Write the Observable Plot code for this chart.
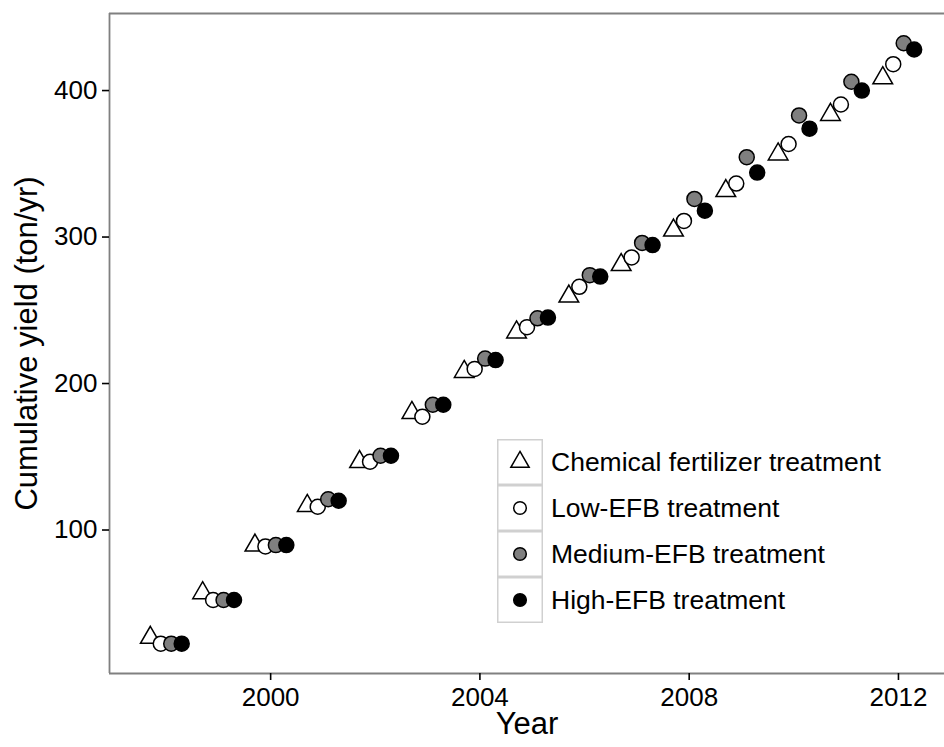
<!DOCTYPE html>
<html>
<head>
<meta charset="utf-8">
<script src="https://cdn.jsdelivr.net/npm/d3@7"></script>
<script src="https://cdn.jsdelivr.net/npm/@observablehq/plot@0.6"></script>
<style>
  html, body { margin: 0; padding: 0; background: #fff; }
  #chart { position: relative; width: 944px; height: 747px; overflow: hidden; font-family: "Liberation Sans", Arial, Helvetica, sans-serif; }
  #legend { position: absolute; left: 497px; top: 439px; }
  #legend .row { display: flex; align-items: center; height: 46px; }
  #legend .row svg { display: block; flex: none; }
  #legend .row span { margin-left: 8px; font-size: 26.5px; color: #000; white-space: nowrap; line-height: 46px; }
</style>
</head>
<body>
<div id="chart"><div id="legend"></div></div>
<script>
// Cumulative yield by year for the four fertilizer treatments
const years = [1998, 1999, 2000, 2001, 2002, 2003, 2004, 2005, 2006, 2007, 2008, 2009, 2010, 2011, 2012];
const chemical = [26.5, 57, 89.5, 116.5, 146.5, 180, 208, 235, 259.5, 281, 304.5, 331.5, 356.5, 383.5, 408.5];
const lowEFB = [22.4, 52.2, 88.8, 115.9, 146.6, 177.3, 210, 238.5, 266, 286.1, 311, 336.5, 363.5, 390.5, 418];
const mediumEFB = [22.4, 52.2, 89.7, 121, 150.7, 185.5, 217, 244.5, 274, 296, 326, 354.5, 383, 406, 432.3];
const highEFB = [22.4, 52.2, 89.7, 120, 150.7, 185.5, 216, 245, 273, 294.5, 318, 344, 374, 400, 428];

const seriesNames = ["Chemical fertilizer treatment", "Low-EFB treatment", "Medium-EFB treatment", "High-EFB treatment"];
const seriesValues = [chemical, lowEFB, mediumEFB, highEFB];
const seriesSymbols = ["triangle", "circle", "circle", "circle"];
const seriesFills = ["white", "white", "#7f7f7f", "black"];

const xTicks = [2000, 2004, 2008, 2012];
const yTicks = [100, 200, 300, 400];

// Dodge the four treatments side by side within each year (total width 0.8 year)
const dodgeWidth = 0.8;
const nSeries = seriesNames.length;
const tables = seriesValues.map((vals, i) =>
  years.map((year, j) => ({
    year,
    x: year + (i - (nSeries - 1) / 2) * dodgeWidth / nSeries,
    value: vals[j],
    series: seriesNames[i]
  }))
);

const xDomain = [1996.92, 2012.88];
const yDomain = [2.05, 452.6];
const frameColor = "#808080";

const chart = Plot.plot({
  width: 944,
  height: 747,
  marginLeft: 109,
  marginRight: 0,
  marginTop: 13,
  marginBottom: 74,
  style: { fontFamily: "Liberation Sans, Arial, Helvetica, sans-serif", background: "white", color: "#000" },
  x: { domain: xDomain },
  y: { domain: yDomain },
  marks: [
    Plot.ruleY([yDomain[0], yDomain[1]], { stroke: frameColor, strokeWidth: 1.8 }),
    Plot.ruleX([xDomain[0]], { stroke: frameColor, strokeWidth: 1.8 }),
    Plot.axisX({ ticks: xTicks, tickFormat: d => String(d), tickSize: 7, tickPadding: 7, fontSize: 26, strokeWidth: 1.6, label: null }),
    Plot.axisY({ ticks: yTicks, tickFormat: d => String(d), tickSize: 7, tickPadding: 5, fontSize: 26, strokeWidth: 1.6, label: null }),
    ...tables.map((rows, i) =>
      Plot.dot(rows, {
        x: "x",
        y: "value",
        symbol: seriesSymbols[i],
        fill: seriesFills[i],
        stroke: "black",
        strokeWidth: 1.5,
        r: seriesSymbols[i] === "triangle" ? 7.3 : 7.5
      })
    ),
    Plot.text(["Year"], { frameAnchor: "bottom", dy: 60, fontSize: 31, fill: "#000" }),
    Plot.text(["Cumulative yield (ton/yr)"], { frameAnchor: "left", textAnchor: "middle", dx: -82, rotate: -90, fontSize: 31, fill: "#000" })
  ]
});

const container = document.getElementById("chart");
container.insertBefore(chart, container.firstChild);
chart.style.position = "absolute";
chart.style.left = "0";
chart.style.top = "0";

// Legend: one keyed row per treatment
const legend = d3.select("#legend");
seriesNames.forEach((name, i) => {
  const row = legend.append("div").attr("class", "row");
  const svg = row.append("svg").attr("width", 46).attr("height", 46);
  svg.append("rect").attr("x", 0.75).attr("y", 0.75).attr("width", 44.5).attr("height", 44.5)
    .attr("fill", "white").attr("stroke", "#d0d0d0").attr("stroke-width", 1.5);
  const sym = seriesSymbols[i] === "triangle" ? d3.symbolTriangle : d3.symbolCircle;
  const r = seriesSymbols[i] === "triangle" ? 6.8 : 6.3;
  svg.append("path")
    .attr("transform", "translate(23,23)")
    .attr("d", d3.symbol(sym, Math.PI * r * r)())
    .attr("fill", seriesFills[i])
    .attr("stroke", "black")
    .attr("stroke-width", 1.5);
  row.append("span").text(name);
});
</script>
</body>
</html>
